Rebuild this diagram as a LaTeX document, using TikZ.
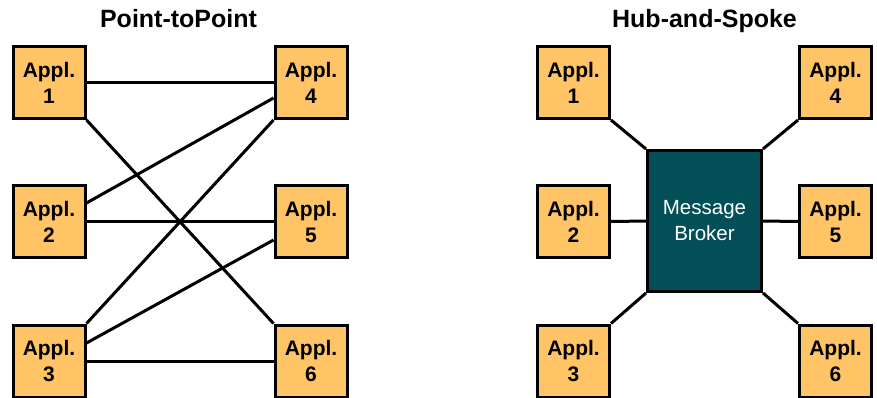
\documentclass[tikz,border=0pt]{standalone}
\usepackage{fontspec}
\setmainfont{Liberation Sans}
\definecolor{applfill}{HTML}{FFC466}
\definecolor{brokerfill}{HTML}{024F58}
\begin{document}
\begin{tikzpicture}[x=1pt,y=-1pt,
  appl/.style={draw=black, line width=3pt, fill=applfill,
    minimum width=72pt, minimum height=72pt, inner sep=0pt,
    align=center, font=\fontsize{21}{26}\selectfont\bfseries},
  broker/.style={draw=black, line width=3pt, fill=brokerfill,
    minimum width=114pt, minimum height=141pt, inner sep=0pt,
    align=center, text=white, font=\fontsize{20.5}{26}\selectfont},
  title/.style={anchor=base, font=\fontsize{25}{30}\selectfont\bfseries},
  link/.style={draw=black, line width=3pt}]
\useasboundingbox (0,0) rectangle (877,397);

% headings
\node[title] (t1) at (178.5,27.5) {Point-toPoint};
\node[title] (t2) at (704.5,27.5) {Hub-and-Spoke};

% point-to-point mesh
\node[appl] (p1) at (49,82.5)  {Appl.\\1};
\node[appl] (p2) at (49,221.5) {Appl.\\2};
\node[appl] (p3) at (49,361)   {Appl.\\3};
\node[appl] (p4) at (311,82.5)  {Appl.\\4};
\node[appl] (p5) at (311,221.5) {Appl.\\5};
\node[appl] (p6) at (311,361)   {Appl.\\6};

\draw[link] (p1.east) -- (p4.west);
\draw[link] (p1.south east) -- (p6.north west);
\draw[link] ([yshift=18.5pt]p2.east) -- ([yshift=-15.5pt]p4.west);
\draw[link] (p2.east) -- (p5.west);
\draw[link] (p3.north east) -- (p4.south west);
\draw[link] ([yshift=18pt]p3.east) -- ([yshift=-18.5pt]p5.west);
\draw[link] (p3.east) -- (p6.west);

% hub-and-spoke
\node[broker] (mb) at (704.5,221) {Message\\Broker\rule[-2pt]{0pt}{0pt}};
\node[appl] (h1) at (573.5,82.5)  {Appl.\\1};
\node[appl] (h2) at (573.5,221.5) {Appl.\\2};
\node[appl] (h3) at (573.5,361)   {Appl.\\3};
\node[appl] (h4) at (835.5,82.5)  {Appl.\\4};
\node[appl] (h5) at (835.5,221.5) {Appl.\\5};
\node[appl] (h6) at (835.5,361)   {Appl.\\6};

\draw[link] (h1.south east) -- (mb.north west);
\draw[link] (h2.east) -- (mb.west);
\draw[link] (h3.north east) -- (mb.south west);
\draw[link] (h4.south west) -- (mb.north east);
\draw[link] (h5.west) -- (mb.east);
\draw[link] (h6.north west) -- (mb.south east);
\end{tikzpicture}
\end{document}
